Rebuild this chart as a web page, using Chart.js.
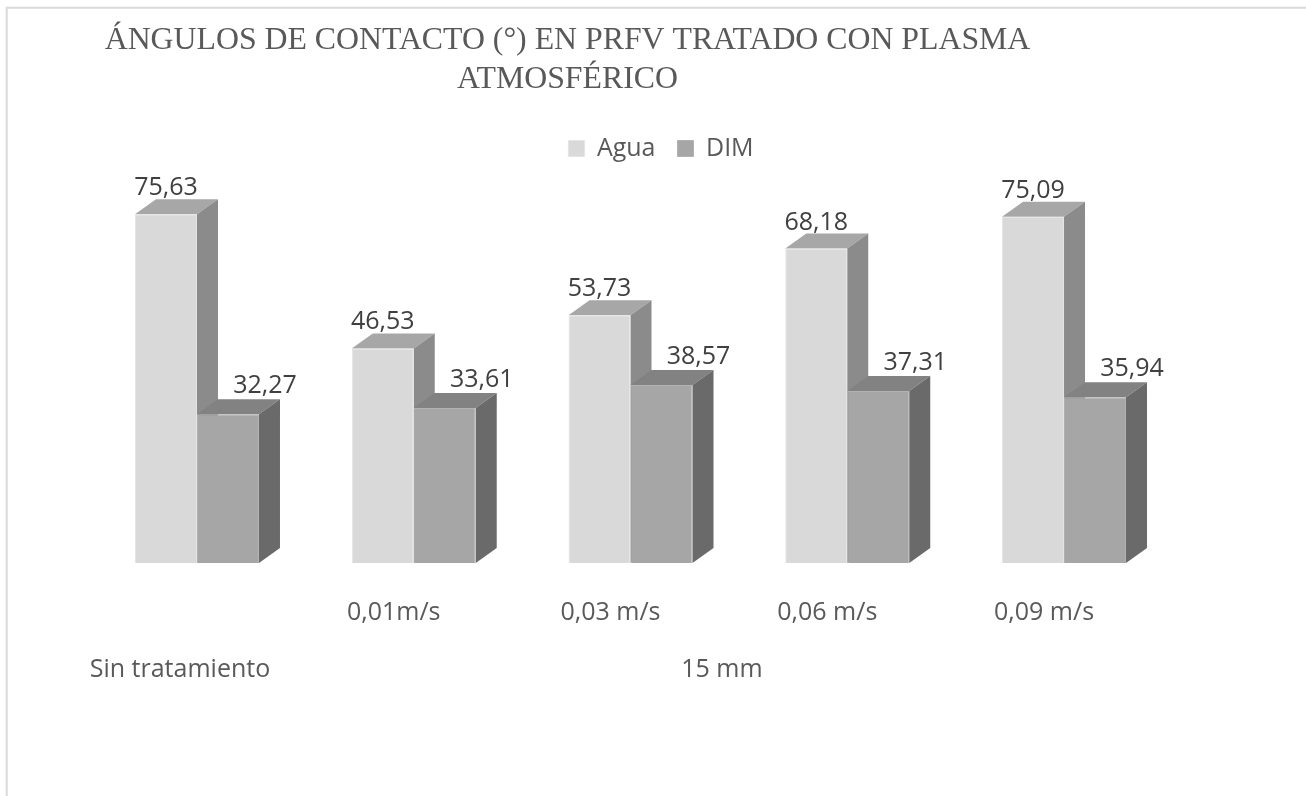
<!DOCTYPE html>
<html>
<head>
<meta charset="utf-8">
<script src="https://cdn.jsdelivr.net/npm/chart.js@4.4.1/dist/chart.umd.min.js"></script>
<style>
body { margin: 0; background: #fff; }
#wrap { width: 1306px; height: 796px; }
</style>
</head>
<body>
<div id="wrap"><canvas id="bar-chart"></canvas></div>
<script>
var titulo = ['ÁNGULOS DE CONTACTO (°) EN PRFV TRATADO CON PLASMA', 'ATMOSFÉRICO'];
var categorias = ['', '0,01m/s', '0,03 m/s', '0,06 m/s', '0,09 m/s'];
var grupos = ['Sin tratamiento', '15 mm'];
var grupoDesde = [0, 1];
var grupoHasta = [0, 4];
var agua = [75.63, 46.53, 53.73, 68.18, 75.09];
var dim = [32.27, 33.61, 38.57, 37.31, 35.94];

// depth of the fake 3D boxes, in pixels
var dx = 21, dy = 15;
var caras = [
    { frente: '#d9d9d9', borde: '#e4e4e4', arriba: '#a7a7a7', lado: '#8b8b8b' },
    { frente: '#a6a6a6', borde: '#b2b2b2', arriba: '#828282', lado: '#6a6a6a' }
];

function poly(ctx, pts, color) {
    ctx.beginPath();
    ctx.moveTo(pts[0][0], pts[0][1]);
    for (var i = 1; i < pts.length; i++) ctx.lineTo(pts[i][0], pts[i][1]);
    ctx.closePath();
    ctx.fillStyle = color;
    ctx.fill();
}

function coma(v) {
    return v.toFixed(2).replace('.', ',');
}

var marco = {
    id: 'marco',
    beforeDraw: function (chart) {
        var ctx = chart.ctx;
        ctx.save();
        ctx.fillStyle = '#ffffff';
        ctx.fillRect(0, 0, chart.width, chart.height);
        ctx.strokeStyle = '#d9d9d9';
        ctx.lineWidth = 2;
        ctx.beginPath();
        ctx.moveTo(6.7, chart.height);
        ctx.lineTo(6.7, 7.8);
        ctx.lineTo(chart.width, 7.8);
        ctx.stroke();
        // title, centred a bit left of the plot like the original sheet
        ctx.fillStyle = '#595959';
        ctx.font = '31.8px "Liberation Serif"';
        ctx.textAlign = 'center';
        ctx.textBaseline = 'alphabetic';
        ctx.fillText(titulo[0], 567.5, 49);
        ctx.fillText(titulo[1], 567.5, 88);
        ctx.restore();
    }
};

// top and side faces go under the front faces that Chart.js draws
var caras3d = {
    id: 'caras3d',
    beforeDatasetsDraw: function (chart) {
        var ctx = chart.ctx;
        ctx.save();
        chart.data.datasets.forEach(function (ds, i) {
            chart.getDatasetMeta(i).data.forEach(function (bar) {
                var p = bar.getProps(['x', 'y', 'base', 'width'], true);
                var l = p.x - p.width / 2, r = p.x + p.width / 2;
                poly(ctx, [[l, p.y], [r, p.y], [r + dx, p.y - dy], [l + dx, p.y - dy]], caras[i].arriba);
                poly(ctx, [[r, p.y], [r + dx, p.y - dy], [r + dx, p.base - dy], [r, p.base]], caras[i].lado);
            });
        });
        ctx.restore();
    },
    afterDatasetsDraw: function (chart) {
        var ctx = chart.ctx;
        ctx.save();
        ctx.font = '25px "Open Sans"';
        ctx.fillStyle = '#404040';
        ctx.textAlign = 'center';
        ctx.textBaseline = 'alphabetic';
        chart.data.datasets.forEach(function (ds, i) {
            chart.getDatasetMeta(i).data.forEach(function (bar, j) {
                var p = bar.getProps(['x', 'y'], true);
                if (i === 0) ctx.fillText(coma(ds.data[j]), p.x, p.y - dy - 4);
                else ctx.fillText(coma(ds.data[j]), p.x + 37, p.y - dy - 6);
            });
        });
        ctx.restore();
    },
    afterDraw: function (chart) {
        var ctx = chart.ctx;
        var xs = chart.scales.x;
        ctx.save();
        ctx.font = '25px "Open Sans"';
        ctx.fillStyle = '#595959';
        ctx.textAlign = 'center';
        ctx.textBaseline = 'middle';
        for (var g = 0; g < grupos.length; g++) {
            var x = (xs.getPixelForTick(grupoDesde[g]) + xs.getPixelForTick(grupoHasta[g])) / 2 - 17;
            ctx.fillText(grupos[g], x, chart.chartArea.bottom + 107);
        }
        ctx.restore();
    }
};

new Chart(document.getElementById('bar-chart'), {
    type: 'bar',
    data: {
        labels: categorias,
        datasets: [
            {
                label: 'Agua',
                data: agua,
                backgroundColor: caras[0].frente,
                borderColor: caras[0].borde,
                borderWidth: 1
            },
            {
                label: 'DIM',
                data: dim,
                backgroundColor: caras[1].frente,
                borderColor: caras[1].borde,
                borderWidth: 1
            }
        ]
    },
    options: {
        responsive: true,
        maintainAspectRatio: false,
        animation: false,
        categoryPercentage: 0.572,
        barPercentage: 1,
        layout: {
            padding: { left: 88.6, right: 72.6, top: 114, bottom: 133 }
        },
        plugins: {
            title: { display: false },
            tooltip: { enabled: false },
            legend: {
                position: 'top',
                labels: {
                    boxWidth: 16,
                    boxHeight: 16,
                    padding: 22,
                    color: '#595959',
                    font: { family: 'Open Sans', size: 25 }
                }
            }
        },
        scales: {
            x: {
                grid: { display: false, drawTicks: false },
                border: { display: false },
                ticks: {
                    padding: 35,
                    labelOffset: -20,
                    autoSkip: false,
                    maxRotation: 0,
                    color: '#595959',
                    font: { family: 'Open Sans', size: 25 }
                }
            },
            y: {
                position: 'right',
                min: 0,
                max: 85,
                ticks: { display: false },
                grid: { display: false, drawTicks: false },
                border: { display: false },
                afterFit: function (scale) { scale.width = 61; }
            }
        }
    },
    plugins: [marco, caras3d]
});
</script>
</body>
</html>
